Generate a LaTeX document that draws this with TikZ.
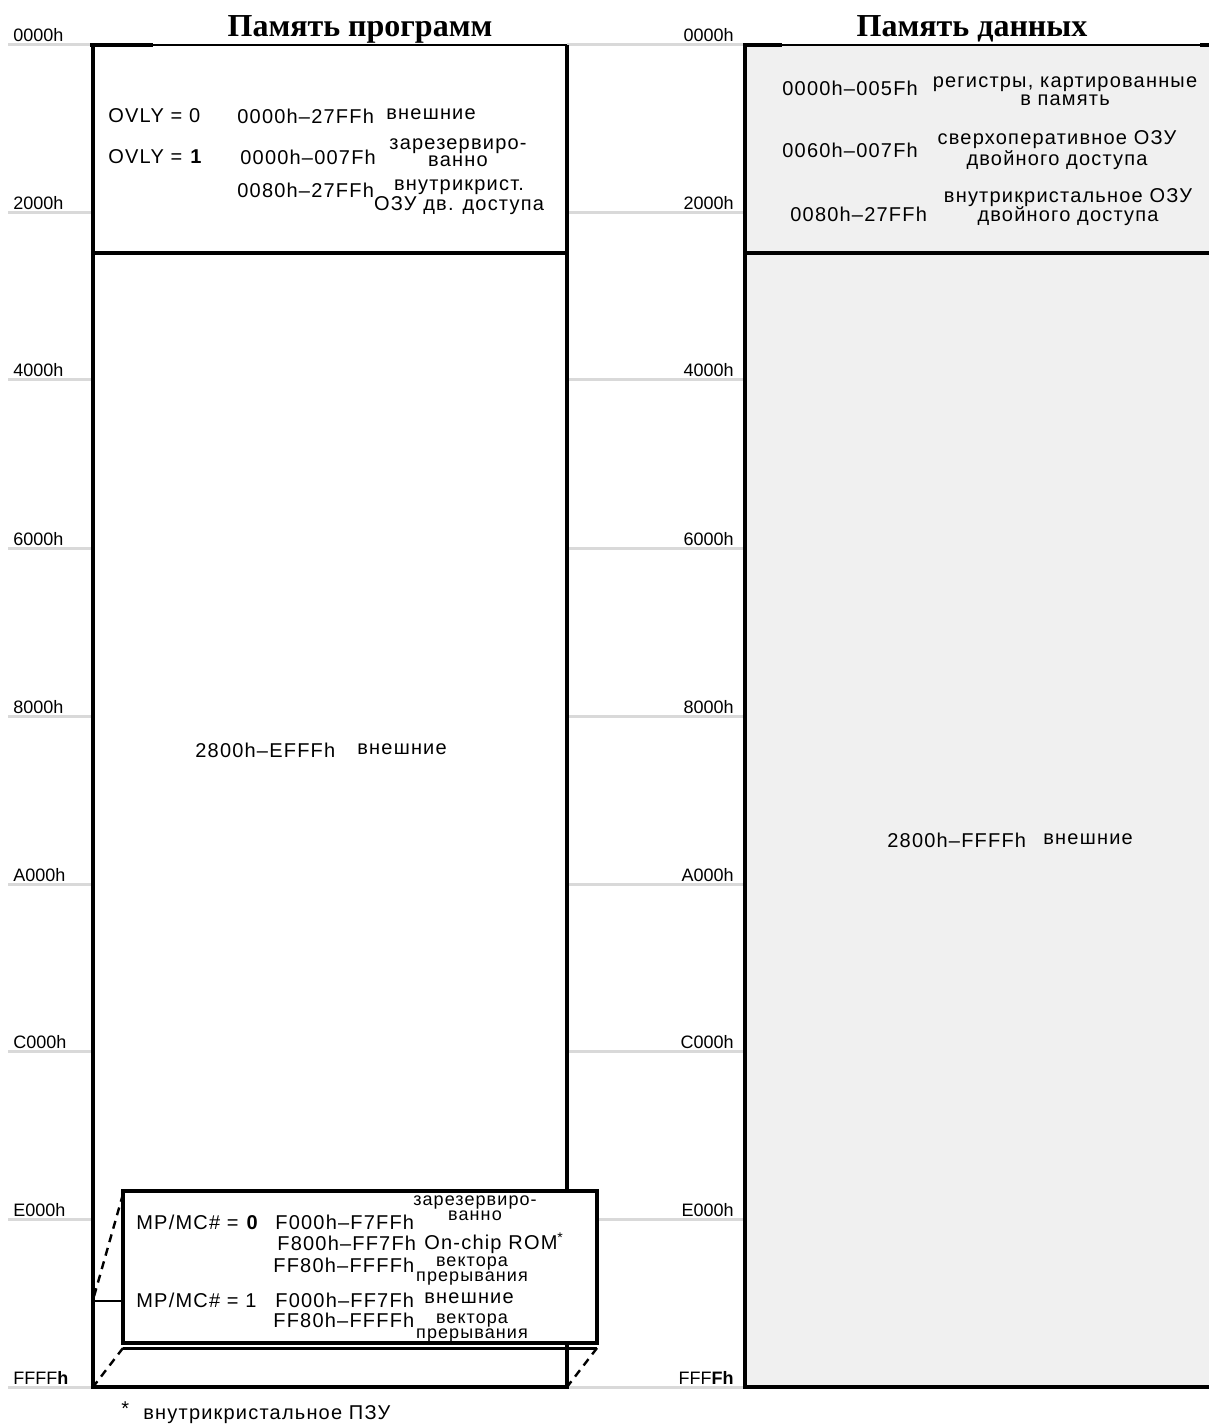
\documentclass[tikz,border=0pt]{standalone}
\usepackage{fontspec}
\setmainfont{Liberation Sans}
\newfontfamily\titlefont{Liberation Serif}
\newfontfamily\mapfont[LetterSpace=6]{Liberation Sans}
\usetikzlibrary{calc}
\definecolor{gridgray}{HTML}{D9D9D9}
\definecolor{datagray}{HTML}{F0F0F0}

\begin{document}
\begin{tikzpicture}[x=0.5pt, y=-0.5pt,
	addr/.style={font=\fontsize{9}{9}\selectfont, inner sep=0pt},
	txt/.style={font=\mapfont\fontsize{10}{8}\selectfont, inner sep=0pt, anchor=west},
	twoline/.style={font=\mapfont\fontsize{10}{8}\selectfont, inner sep=0pt, align=center},
	romline/.style={font=\mapfont\fontsize{9}{7.5}\selectfont, inner sep=0pt, align=center},
	frame/.style={line width=2pt},
	gridline/.style={draw=gridgray, line width=1.5pt},
	maptitle/.style={font=\titlefont\bfseries\fontsize{16}{16}\selectfont, inner sep=0pt}]

	\useasboundingbox[fill=white] (0,0) rectangle (1208,1427);

	% ---- coordinate principali ----
	\coordinate (PA) at (93,45);     % memoria programmi, alto sinistra
	\coordinate (PB) at (567,1387);  % memoria programmi, basso destra
	\coordinate (DA) at (745,45);    % memoria dati, alto sinistra
	\coordinate (DB) at (1212,1387); % memoria dati, basso destra
	\coordinate (IA) at (123,1191);  % inserto ROM, alto sinistra
	\coordinate (IB) at (597,1343);  % inserto ROM, basso destra

	% ---- righe della scala degli indirizzi ----
	\foreach \lab/\yy [count=\i] in {0000h/45, 2000h/213, 4000h/380, 6000h/548,
			8000h/716, A000h/884, C000h/1051, E000h/1219}{
			\draw[gridline] (8,\yy) -- (93,\yy);
			\draw[gridline] (567,\yy) -- (745,\yy);
			\node[addr, anchor=base west] (lscale\i) at (13,\yy-3) {\lab};
			\node[addr, anchor=base east] (rscale\i) at (734,\yy-3) {\lab};
		}
	\draw[gridline] (8,1387) -- (93,1387);
	\draw[gridline] (567,1387) -- (745,1387);
	\node[addr, anchor=base west] (lscale9) at (13,1384) {FFFF\textbf{h}};
	\node[addr, anchor=base east] (rscale9) at (734,1384) {FFF\textbf{Fh}};

	% ---- titoli ----
	\node[maptitle] (progtitle) at (360,29) {Память программ};
	\node[maptitle] (datatitle) at (972,29) {Память данных};

	% ---- memoria programmi ----
	\fill[white] (PA) rectangle (PB);
	\draw[frame] (PA) -- (PA |- PB) -- (PB) -- (PB |- PA);
	\draw[line width=1.2pt] (PA) -- (PB |- PA);
	\draw[frame] (90,45) -- (153,45);
	\draw[frame] (93,253) -- (567,253);

	\node[txt] (ovly0) at (108,116) {OVLY = 0};
	\node[txt] (ovly0adr) at (237,116) {0000h–27FFh};
	\node[txt] (ovly0ext) at (386,114) {внешние};
	\node[txt] (ovly1) at (108,157) {OVLY = \textbf{1}};
	\node[txt] (ovly1adr) at (240,157) {0000h–007Fh};
	\node[twoline, font=\mapfont\fontsize{10}{8.5}\selectfont] (ovly1res) at (458,153) {зарезервиро-\\ванно};
	\node[txt] (ovly1dpadr) at (237,190) {0080h–27FFh};
	\node[twoline, font=\mapfont\fontsize{10}{8.5}\selectfont] (ovly1dp) at (459,197) {внутрикрист.\\ОЗУ дв. доступа};

	\node[txt] (progextadr) at (195,750) {2800h–EFFFh};
	\node[txt] (progext) at (357,749) {внешние};

	% ---- memoria dati ----
	\fill[datagray] (DA) rectangle (DB);
	\draw[frame] (DA) -- (DA |- DB) -- (DB);
	\draw[line width=1.2pt] (DA) -- (DB |- DA);
	\draw[frame] (743,45) -- (782,45);
	\draw[frame] (1200,45) -- (1212,45);
	\draw[frame] (745,253) -- (1212,253);

	\node[txt] (regadr) at (782,88) {0000h–005Fh};
	\node[twoline, font=\mapfont\fontsize{10}{9}\selectfont] (regtxt) at (1065,91) {регистры, картированные\\в память};
	\node[txt] (scradr) at (782,150) {0060h–007Fh};
	\node[twoline, font=\mapfont\fontsize{10}{9}\selectfont] (scrtxt) at (1057,150) {сверхоперативное ОЗУ\\двойного доступа};
	\node[txt] (dpradr) at (790,214) {0080h–27FFh};
	\node[twoline, font=\mapfont\fontsize{10}{9.5}\selectfont] (dprtxt) at (1068,207) {внутрикристальное ОЗУ\\двойного доступа};

	\node[txt] (dataextadr) at (887,840) {2800h–FFFFh};
	\node[txt] (dataext) at (1043,839) {внешние};

	% ---- inserto ROM (prospettiva) ----
	\draw[line width=1.2pt, dash pattern=on 4pt off 3pt] ($(IA)+(0,3)$) -- (93,1300);
	\draw[line width=0.6pt] (93,1301) -- (IA |- 0,1301);
	\draw[line width=1.2pt, dash pattern=on 4pt off 3pt] (IA |- 0,1348) -- (PA |- PB);
	\draw[line width=1.2pt, dash pattern=on 4pt off 3pt] (IB |- 0,1348) -- (PB);
	\draw[line width=1.5pt] (IA |- 0,1348) -- (IB |- 0,1348);
	\draw[frame, fill=white] (IA) rectangle (IB);

	\node[txt] (mp0) at (136,1222) {MP/MC\# = \textbf{0}};
	\node[txt] (mp0adr) at (275,1222) {F000h–F7FFh};
	\node[romline] (mp0res) at (475,1208) {зарезервиро-\\ванно};
	\node[txt] (mp0romadr) at (277,1243) {F800h–FF7Fh};
	\node[txt] (mp0rom) at (424,1243) {On-chip ROM\textsuperscript{*}};
	\node[txt] (mp0vecadr) at (273,1265) {FF80h–FFFFh};
	\node[romline] (mp0vec) at (472,1271) {вектора\\прерывания};
	\node[txt] (mp1) at (136,1300) {MP/MC\# = 1};
	\node[txt] (mp1adr) at (275,1300) {F000h–FF7Fh};
	\node[txt] (mp1ext) at (424,1298) {внешние};
	\node[txt] (mp1vecadr) at (273,1320) {FF80h–FFFFh};
	\node[romline] (mp1vec) at (472,1328) {вектора\\прерывания};

	% ---- nota ----
	\node[txt] (fnstar) at (121,1409) {*};
	\node[txt] (fntxt) at (143,1415) {внутрикристальное ПЗУ};

\end{tikzpicture}
\end{document}
